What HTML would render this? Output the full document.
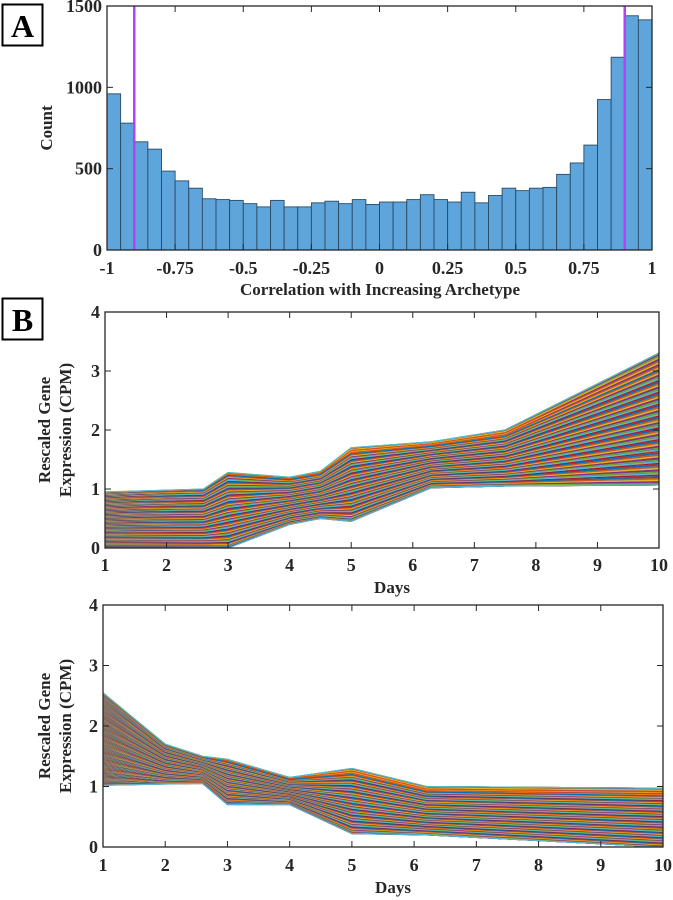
<!DOCTYPE html>
<html><head><meta charset="utf-8"><style>
html,body{margin:0;padding:0;background:#fff}
svg{display:block}
text{font-family:"Liberation Serif",serif;font-weight:bold;fill:#262626}
</style></head><body>
<svg id="fig" width="673" height="900" viewBox="0 0 673 900" xmlns="http://www.w3.org/2000/svg">
<g><rect x="2.5" y="4.5" width="40" height="41" fill="#fff" stroke="#000" stroke-width="2"/><text x="22.5" y="37" text-anchor="middle" font-size="32" style="fill:#000">A</text></g>
<g><rect x="2.5" y="298.5" width="40" height="41" fill="#fff" stroke="#000" stroke-width="2"/><text x="22.5" y="331" text-anchor="middle" font-size="32" style="fill:#000">B</text></g>
<g id="hist"></g>
<g id="inc"></g>
<g id="dec"></g>
</svg>
<script>
const histCounts=[960,780,665,620,485,425,380,315,310,305,285,265,305,265,265,290,300,285,310,280,295,295,310,340,310,295,355,290,335,380,365,380,385,465,535,645,925,1185,1440,1415];
const histTickVals=[-1,-0.75,-0.5,-0.25,0,0.25,0.5,0.75,1];
const histTickLabels=["-1","-0.75","-0.5","-0.25","0","0.25","0.5","0.75","1"];
const histYTicks=[0,500,1000,1500];
const thresholds=[-0.9,0.9];
const dayTicks=[1,2,3,4,5,6,7,8,9,10];
const exprTicks=[0,1,2,3,4];
const incDays=[1,2.6,3,4,4.5,5,6.3,7.5,10];
const incUpper=[0.95,1.0,1.28,1.2,1.3,1.7,1.8,2.0,3.3];
const incLower=[0.0,0.0,0.0,0.4,0.5,0.45,1.02,1.05,1.07];
const decDays=[1,2,2.6,3,4,5,6.2,10];
const decUpper=[2.55,1.7,1.5,1.45,1.15,1.3,1.0,0.97];
const decLower=[1.02,1.04,1.05,0.7,0.7,0.22,0.2,0.0];
const NS='http://www.w3.org/2000/svg';
const colors=['#0072BD','#D95319','#EDB120','#7E2F8E','#77AC30','#4DBEEE','#A2142F'];
function mk(p,t,a){const e=document.createElementNS(NS,t);for(const k in a)e.setAttribute(k,a[k]);p.appendChild(e);return e;}
function axes(g,L,R,T,B,xs,ys,xt,xl,yt,yl,labY){
  mk(g,'rect',{x:L,y:T,width:R-L,height:B-T,fill:'none',stroke:'#262626','stroke-width':1.3});
  xt.forEach((v,i)=>{const x=xs(v);
    mk(g,'line',{x1:x,x2:x,y1:B,y2:B-6,stroke:'#262626'});mk(g,'line',{x1:x,x2:x,y1:T,y2:T+6,stroke:'#262626'});
    const t=mk(g,'text',{x:x,y:labY,'text-anchor':'middle','font-size':18});t.textContent=xl[i];
    
    });
  yt.forEach((v,i)=>{const y=ys(v);
    mk(g,'line',{x1:L,x2:L+6,y1:y,y2:y,stroke:'#262626'});mk(g,'line',{x1:R,x2:R-6,y1:y,y2:y,stroke:'#262626'});
    const t=mk(g,'text',{x:L-5,y:y+6,'text-anchor':'end','font-size':18});t.textContent=yl[i];
    
    });
}
(function(){const g=document.getElementById('hist');const L=107,R=652,T=6,B=250;
 const xs=v=>L+(v+1)/2*(R-L), ys=v=>B-v/1500*(B-T);const w=2/histCounts.length;
 histCounts.forEach((c,i)=>{const r=mk(g,'rect',{x:xs(-1+i*w),y:ys(c),width:xs(-1+(i+1)*w)-xs(-1+i*w),height:B-ys(c),fill:'#5DA5DA',stroke:'#2b4a63','stroke-width':0.9});
  
  });
 thresholds.forEach(v=>{const l=mk(g,'line',{x1:xs(v),x2:xs(v),y1:T,y2:B,stroke:'#B540F5','stroke-width':2.5});
  
  });
 axes(g,L,R,T,B,xs,ys,histTickVals,histTickLabels,histYTicks,histYTicks.map(String),274);
 const t=mk(g,'text',{x:380,y:295,'text-anchor':'middle','font-size':17});t.textContent='Correlation with Increasing Archetype';
 
 const c=mk(g,'text',{transform:'translate(52,128) rotate(-90)','text-anchor':'middle','font-size':17});c.textContent='Count';
 
})();
function lines(id,L,R,T,B,days,up,lo,dayY,titleY){
 const g=document.getElementById(id);const xs=v=>L+(v-1)/9*(R-L), ys=v=>B-v/4*(B-T);
 const N=700;
 for(let i=0;i<N;i++){
  const a=i/(N-1);
  let b=a+(((i*13)%9)-4)*0.03; b=Math.max(0,Math.min(1,b));
  let pts=days.map((d,j)=>{const f=j/(days.length-1);const t=a*(1-f)+b*f;return xs(d).toFixed(1)+','+ys(lo[j]+t*(up[j]-lo[j])).toFixed(1);}).join(' ');
  const p=mk(g,'polyline',{points:pts,fill:'none',stroke:colors[(i*3)%7],'stroke-width':1.1});
  
  
 }
 [up,lo].forEach(arr=>{mk(g,'polyline',{points:days.map((d,j)=>xs(d)+','+ys(arr[j])).join(' '),fill:'none',stroke:'#4DBEEE','stroke-width':0.8});});
 axes(g,L,R,T,B,xs,ys,dayTicks,dayTicks.map(String),exprTicks,exprTicks.map(String),dayY);
 const t=mk(g,'text',{x:(L+R)/2+10,y:titleY,'text-anchor':'middle','font-size':17});t.textContent='Days';
 
 const cy=(T+B)/2;
 const y1=mk(g,'text',{transform:`translate(50,${cy}) rotate(-90)`,'text-anchor':'middle','font-size':17});y1.textContent='Rescaled Gene';
 
 const y2=mk(g,'text',{transform:`translate(71,${cy}) rotate(-90)`,'text-anchor':'middle','font-size':17});y2.textContent='Expression (CPM)';
 
}
lines('inc',105,659,312,548,incDays,incUpper,incLower,571,593);
lines('dec',103,663,605,847,decDays,decUpper,decLower,871,893);
</script>
</body></html>
